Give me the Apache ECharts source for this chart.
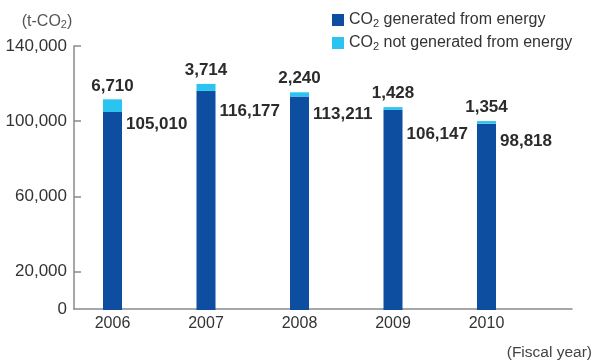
<!DOCTYPE html>
<html>
<head>
<meta charset="utf-8">
<script src="https://cdn.jsdelivr.net/npm/echarts@6/dist/echarts.min.js"></script>
<style>
  html, body { margin: 0; padding: 0; background: #fff; }
  #chart { width: 595px; height: 361px; }
</style>
</head>
<body>
<div id="chart"></div>
<script>
// Fiscal years and CO2 emissions (t-CO2)
const years = ['2006', '2007', '2008', '2009', '2010'];
const energyCO2 = [105010, 116177, 113211, 106147, 98818];
const nonEnergyCO2 = [6710, 3714, 2240, 1428, 1354];
const yLabelValues = [0, 20000, 60000, 100000, 140000];
const yTickValues = [20000, 60000, 100000, 140000];

// vertical drop (px) of each energy value label below the top of its bar
const energyLabelDrop = [12, 20, 18, 24, 18];

const FONT = 'Liberation Sans, Arial, sans-serif';
const fmt = v => v.toLocaleString('en-US');
const Y_MAX = 140000;

function subRich(color, size) {
  return {
    a: { fontSize: size, color: color, fontFamily: FONT, lineHeight: 17 },
    b: { fontSize: Math.round(size * 0.66), color: color, fontFamily: FONT, padding: [7, 0, 0, 0], lineHeight: 17 }
  };
}

const chart = echarts.init(document.getElementById('chart'), null, { renderer: 'canvas' });

chart.setOption({
  animation: false,
  textStyle: { fontFamily: FONT },
  // grid 0 carries the visible axis frame, grid 1 places the bars
  grid: [
    { left: 74, right: 22, top: 46, bottom: 51 },
    { left: 65.75, right: 61.75, top: 46, bottom: 51 }
  ],
  legend: {
    orient: 'vertical',
    left: 332,
    top: 11,
    padding: 0,
    itemWidth: 12,
    itemHeight: 12,
    itemGap: 5,
    icon: 'rect',
    selectedMode: false,
    formatter: name => '{a|CO}{b|2}{a|' + name.replace('CO2', '') + '}',
    textStyle: { rich: subRich('#333', 16), padding: [0, 0, 0, 0] },
    data: ['CO2 generated from energy', 'CO2 not generated from energy']
  },
  xAxis: [
    {
      gridIndex: 0,
      type: 'value',
      min: 0,
      max: 1,
      splitLine: { show: false },
      axisTick: { show: false },
      axisLabel: { show: false },
      axisLine: { show: true, lineStyle: { color: '#8a8a8a', width: 1.5 } },
      name: '(Fiscal year)',
      nameLocation: 'end',
      nameGap: 0,
      nameTextStyle: {
        color: '#444',
        fontSize: 15.5,
        fontFamily: FONT,
        align: 'right',
        verticalAlign: 'top',
        padding: [36, -20, 0, 0]
      }
    },
    {
      gridIndex: 1,
      type: 'category',
      data: years,
      boundaryGap: true,
      axisLine: { show: false },
      axisTick: { show: false },
      axisLabel: {
        color: '#333',
        fontSize: 16,
        margin: 6,
        fontFamily: FONT
      }
    }
  ],
  yAxis: [
    {
      gridIndex: 0,
      type: 'value',
      min: 0,
      max: Y_MAX,
      interval: 20000,
      splitLine: { show: false },
      axisLine: { show: true, lineStyle: { color: '#8a8a8a', width: 1.5 } },
      axisTick: {
        show: true,
        inside: true,
        length: 7,
        customValues: yTickValues,
        lineStyle: { color: '#8a8a8a', width: 1.5 }
      },
      axisLabel: {
        customValues: yLabelValues,
        formatter: v => fmt(v),
        color: '#333',
        fontSize: 17,
        margin: 7,
        fontFamily: FONT
      },
      name: '{a|(t-CO}{b|2}{a|)}',
      nameLocation: 'end',
      nameGap: 16,
      nameTextStyle: {
        align: 'center',
        padding: [0, 0, 0, -54],
        rich: subRich('#555', 16)
      }
    },
    {
      gridIndex: 1,
      type: 'value',
      min: 0,
      max: Y_MAX,
      show: false
    }
  ],
  series: [
    {
      name: 'CO2 generated from energy',
      type: 'bar',
      xAxisIndex: 1,
      yAxisIndex: 1,
      stack: 'total',
      barWidth: 19,
      itemStyle: { color: '#0d4ea1' },
      data: energyCO2.map((v, i) => ({
        value: v,
        label: { position: [23, energyLabelDrop[i]] }
      })),
      label: {
        show: true,
        align: 'left',
        verticalAlign: 'middle',
        formatter: p => fmt(p.value),
        color: '#2b2b2b',
        fontSize: 17,
        fontWeight: 'bold',
        fontFamily: FONT
      }
    },
    {
      name: 'CO2 not generated from energy',
      type: 'bar',
      xAxisIndex: 1,
      yAxisIndex: 1,
      stack: 'total',
      barWidth: 19,
      itemStyle: { color: '#2bc4f0' },
      data: nonEnergyCO2,
      label: {
        show: true,
        position: 'top',
        distance: 5,
        formatter: p => fmt(p.value),
        color: '#2b2b2b',
        fontSize: 17,
        fontWeight: 'bold',
        fontFamily: FONT
      }
    }
  ]
});
</script>
</body>
</html>
